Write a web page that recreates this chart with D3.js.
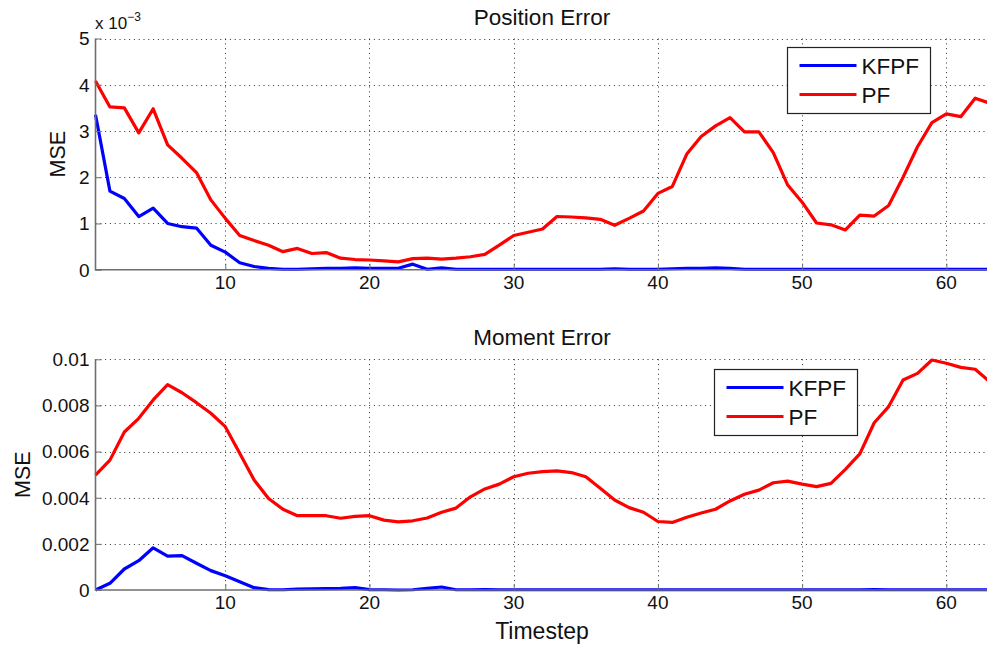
<!DOCTYPE html>
<html>
<head>
<meta charset="utf-8">
<script src="https://cdn.jsdelivr.net/npm/d3@7"></script>
<style>
  html, body { margin: 0; padding: 0; background: #fff; }
  svg { display: block; font-family: "Liberation Sans", Arial, Helvetica, sans-serif; }
</style>
</head>
<body>
<svg id="chart" width="987" height="646"></svg>
<script>
// Timesteps 1..63
const timesteps = d3.range(1, 64);

// Position error (MSE)
const posKFPF = [
  0.00335, 0.00170, 0.00154, 0.00115, 0.00133, 0.00100, 0.00093, 0.00090, 0.00053, 0.00038,
  0.00015, 0.00007, 0.00003, 0.00001, 0.00001, 0.00002, 0.00003, 0.00003, 0.00004, 0.00003,
  0.00003, 0.00003, 0.00012, 0.00001, 0.00004, 0.00001, 0.00001, 0.00001, 0.00001, 0.00001,
  0.00001, 0.00001, 0.00001, 0.00001, 0.00001, 0.00001, 0.00002, 0.00001, 0.00001, 0.00001,
  0.00002, 0.00003, 0.00003, 0.00004, 0.00003, 0.00001, 0.00001, 0.00001, 0.00001, 0.00001,
  0.00001, 0.00001, 0.00001, 0.00001, 0.00001, 0.00001, 0.00001, 0.00001, 0.00001, 0.00001,
  0.00001, 0.00001, 0.00001
];
const posPF = [
  0.00408, 0.00352, 0.00350, 0.00296, 0.00348, 0.00270, 0.00241, 0.00210, 0.00151, 0.00111,
  0.00074, 0.00063, 0.00053, 0.00039, 0.00046, 0.00035, 0.00037, 0.00025, 0.00022, 0.00021,
  0.00019, 0.00017, 0.00024, 0.00025, 0.00023, 0.00025, 0.00028, 0.00033, 0.00053, 0.00074,
  0.00081, 0.00088, 0.00115, 0.00114, 0.00112, 0.00109, 0.00096, 0.00111, 0.00127, 0.00165,
  0.00180, 0.00250, 0.00288, 0.00311, 0.00329, 0.00298, 0.00298, 0.00253, 0.00183, 0.00146,
  0.00101, 0.00097, 0.00086, 0.00118, 0.00116, 0.00139, 0.00200, 0.00266, 0.00318, 0.00337,
  0.00331, 0.00371, 0.00360
];

// Moment error (MSE)
const momKFPF = [
  0.00000, 0.00029, 0.00091, 0.00127, 0.00183, 0.00147, 0.00149, 0.00116, 0.00084, 0.00062,
  0.00036, 0.00010, 0.00002, 0.00001, 0.00004, 0.00005, 0.00006, 0.00007, 0.00010, 0.00002,
  0.00001, 0.00000, 0.00001, 0.00007, 0.00013, 0.00001, 0.00001, 0.00002, 0.00001, 0.00001,
  0.00001, 0.00001, 0.00001, 0.00001, 0.00001, 0.00001, 0.00001, 0.00001, 0.00001, 0.00001,
  0.00001, 0.00001, 0.00001, 0.00001, 0.00001, 0.00001, 0.00001, 0.00001, 0.00001, 0.00001,
  0.00001, 0.00001, 0.00001, 0.00001, 0.00002, 0.00001, 0.00001, 0.00001, 0.00001, 0.00001,
  0.00001, 0.00001, 0.00001
];
const momPF = [
  0.00498, 0.00563, 0.00685, 0.00744, 0.00824, 0.00890, 0.00855, 0.00812, 0.00766, 0.00708,
  0.00593, 0.00477, 0.00397, 0.00350, 0.00322, 0.00322, 0.00322, 0.00311, 0.00319, 0.00322,
  0.00303, 0.00295, 0.00300, 0.00312, 0.00337, 0.00355, 0.00404, 0.00438, 0.00459, 0.00491,
  0.00506, 0.00513, 0.00516, 0.00509, 0.00491, 0.00441, 0.00390, 0.00357, 0.00337, 0.00297,
  0.00293, 0.00315, 0.00334, 0.00350, 0.00386, 0.00415, 0.00433, 0.00465, 0.00472, 0.00459,
  0.00448, 0.00462, 0.00523, 0.00590, 0.00725, 0.00795, 0.00910, 0.00939, 0.00997, 0.00983,
  0.00965, 0.00957, 0.00903
];

const xTicks = [10, 20, 30, 40, 50, 60];
const posTicks = [0, 0.001, 0.002, 0.003, 0.004, 0.005];
const momTicks = [0, 0.002, 0.004, 0.006, 0.008, 0.01];
const seriesNames = ["KFPF", "PF"];
const seriesColors = ["#0000ff", "#ff0000"];

const svg = d3.select("#chart");
const axisColor = "#6e6e6e";

const x = d3.scaleLinear().domain([1, 63]).range([95.5, 989.6]);

function panel(cfg) {
  const y = d3.scaleLinear().domain(cfg.domain).range([cfg.bottom, cfg.top]);
  const g = svg.append("g");
  const right = x.range()[1];

  // dotted grid
  const grid = g.append("g").attr("stroke", "#333").attr("stroke-width", 1)
    .attr("stroke-dasharray", "1,3.8");
  grid.selectAll("line.v").data(xTicks).join("line")
    .attr("x1", d => Math.round(x(d)) + 0.5).attr("x2", d => Math.round(x(d)) + 0.5)
    .attr("y1", cfg.top).attr("y2", cfg.bottom);
  grid.selectAll("line.h").data(cfg.ticks.slice(1)).join("line")
    .attr("x1", x.range()[0]).attr("x2", right)
    .attr("y1", d => Math.round(y(d)) + 0.5).attr("y2", d => Math.round(y(d)) + 0.5);

  // series lines
  const line = d3.line().x((d, i) => x(timesteps[i])).y(d => y(d));
  cfg.series.forEach((s, k) => {
    g.append("path").datum(s)
      .attr("fill", "none").attr("stroke", seriesColors[k])
      .attr("stroke-width", 3.2).attr("stroke-linejoin", "round")
      .attr("d", line);
  });

  // axes (ticks pointing inward)
  const xAxis = d3.axisTop(x).tickValues(xTicks).tickSize(6).tickFormat("");
  const xg = g.append("g").attr("transform", `translate(0,${cfg.bottom})`).call(xAxis);
  xg.select(".domain").remove();
  xg.selectAll(".tick line").attr("stroke", axisColor).attr("stroke-width", 1);
  g.append("line").attr("x1", x.range()[0]).attr("x2", right)
    .attr("y1", cfg.bottom).attr("y2", cfg.bottom)
    .attr("stroke", axisColor).attr("stroke-width", 1.6);

  const yAxis = d3.axisRight(y).tickValues(cfg.ticks).tickSize(6).tickFormat("");
  const yg = g.append("g").attr("transform", `translate(${x.range()[0]},0)`).call(yAxis);
  yg.select(".domain").remove();
  yg.selectAll(".tick line").attr("stroke", axisColor).attr("stroke-width", 1);
  g.append("line").attr("x1", x.range()[0]).attr("x2", x.range()[0])
    .attr("y1", cfg.top).attr("y2", cfg.bottom + 0.8)
    .attr("stroke", axisColor).attr("stroke-width", 1.6);

  // tick labels
  g.selectAll("text.yl").data(cfg.ticks).join("text")
    .attr("x", x.range()[0] - 6).attr("y", d => y(d))
    .attr("dy", "0.36em").attr("text-anchor", "end")
    .attr("font-size", 19).attr("fill", "#111")
    .text(cfg.fmt);
  g.selectAll("text.xl").data(xTicks).join("text")
    .attr("x", d => x(d)).attr("y", cfg.bottom + 19)
    .attr("text-anchor", "middle").attr("font-size", 19).attr("fill", "#111")
    .text(d => d);

  // title and y label
  g.append("text").attr("x", 542).attr("y", cfg.top - 14)
    .attr("text-anchor", "middle").attr("font-size", 22.5).attr("fill", "#111")
    .text(cfg.title);
  g.append("text")
    .attr("transform", `translate(${cfg.ylabX},${(cfg.top + cfg.bottom) / 2}) rotate(-90)`)
    .attr("text-anchor", "middle").attr("font-size", 21.5).attr("fill", "#111")
    .text("MSE");

  // legend
  const lg = g.append("g").attr("transform", `translate(${cfg.legX},${cfg.legY})`);
  lg.append("rect").attr("x", 0).attr("y", 0).attr("width", 143).attr("height", 66)
    .attr("fill", "#fff").attr("stroke", "#222").attr("stroke-width", 1.2);
  seriesNames.forEach((n, k) => {
    const ly = 18 + k * 29;
    lg.append("line").attr("x1", 12).attr("x2", 69).attr("y1", ly).attr("y2", ly)
      .attr("stroke", seriesColors[k]).attr("stroke-width", 3.2);
    lg.append("text").attr("x", 74).attr("y", ly).attr("dy", "0.36em")
      .attr("font-size", 22.5).attr("fill", "#111").text(n);
  });
  return g;
}

panel({
  domain: [0, 0.005], top: 38.5, bottom: 269.7, ticks: posTicks,
  fmt: d => Math.round(d * 1000), title: "Position Error", ylabX: 65,
  series: [posKFPF, posPF], legX: 787.5, legY: 47.5
});

// exponent label of the top panel
const ex = svg.append("text").attr("x", 95).attr("y", 29).attr("font-size", 17).attr("fill", "#111");
ex.append("tspan").text("x 10");
ex.append("tspan").attr("font-size", 12).attr("dy", -8).text("\u22123");

panel({
  domain: [0, 0.01], top: 359.3, bottom: 590, ticks: momTicks,
  fmt: d => d === 0 ? "0" : d3.format(".3~f")(d), title: "Moment Error", ylabX: 30,
  series: [momKFPF, momPF], legX: 714.5, legY: 369.5
});

svg.append("text").attr("x", 542).attr("y", 639)
  .attr("text-anchor", "middle").attr("font-size", 23).attr("fill", "#111")
  .text("Timestep");
</script>
</body>
</html>
